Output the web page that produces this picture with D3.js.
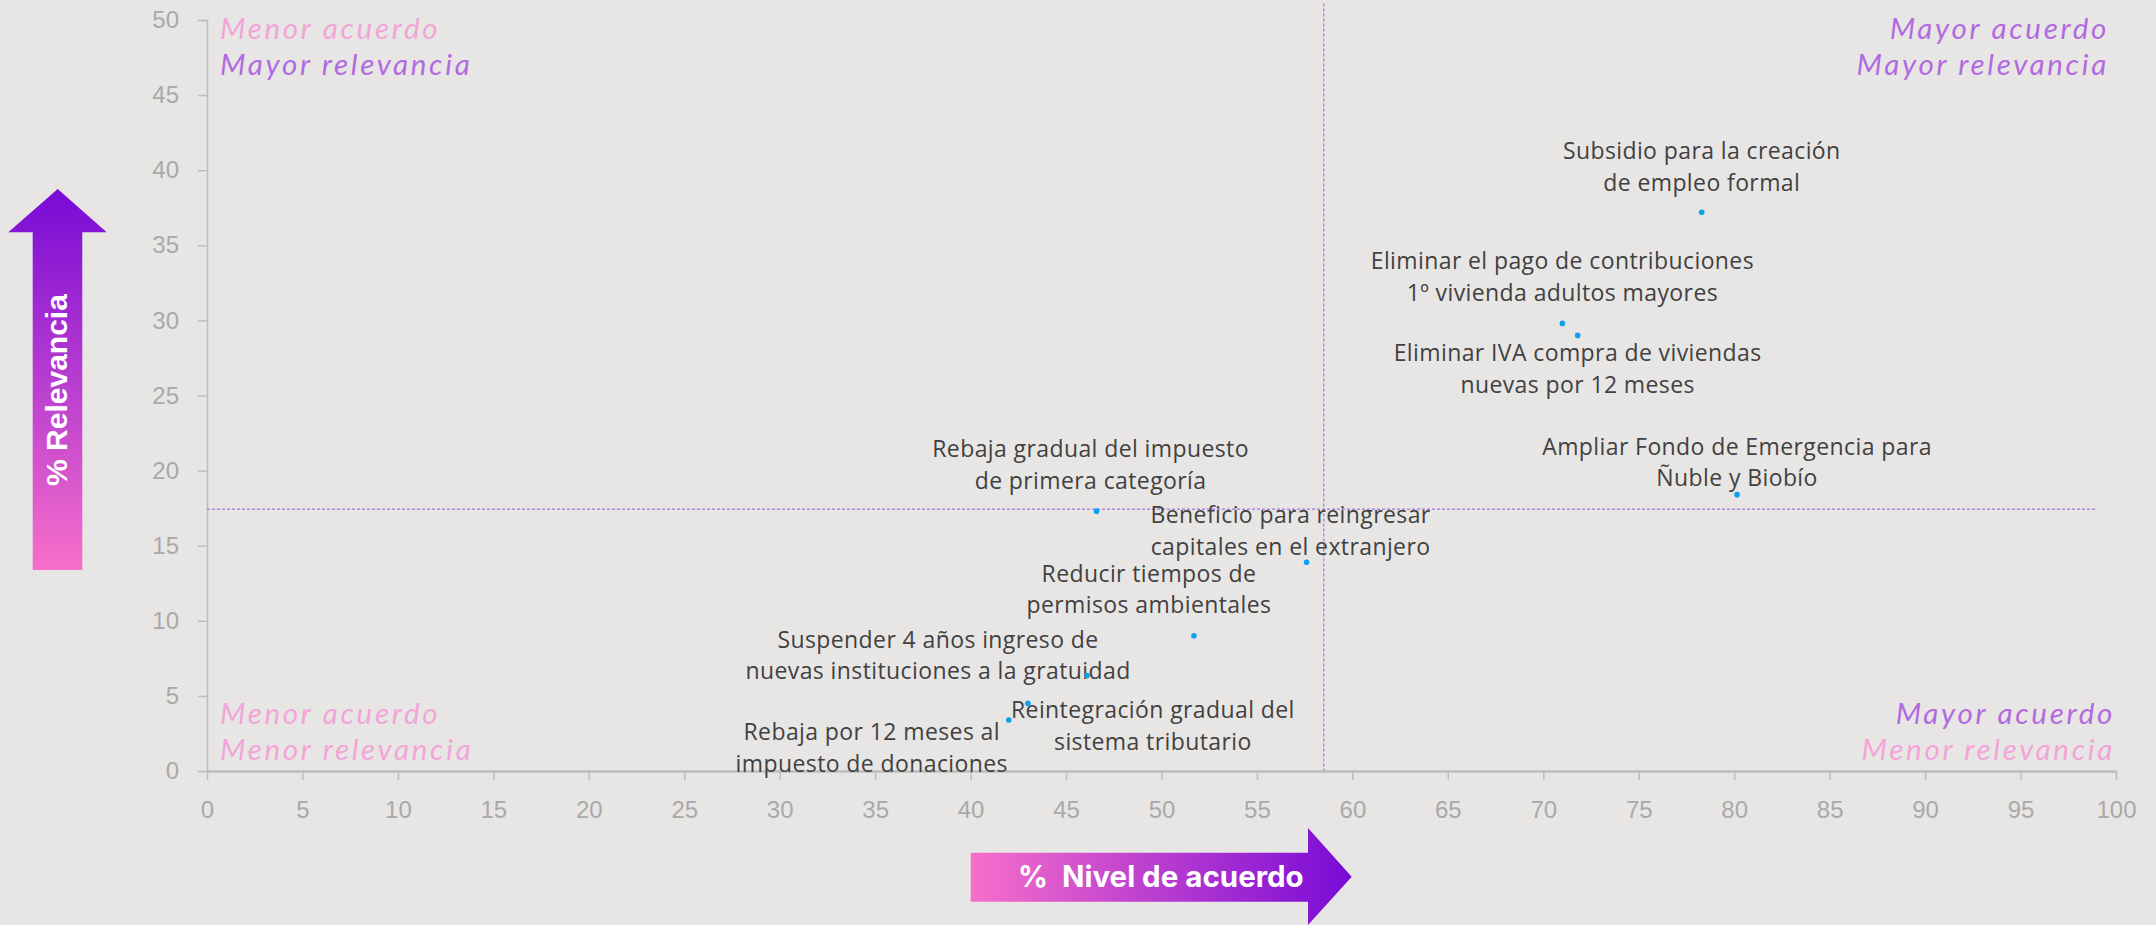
<!DOCTYPE html>
<html>
<head>
<meta charset="utf-8">
<script src="https://cdn.jsdelivr.net/npm/d3@7"></script>
<style>
  html, body { margin: 0; padding: 0; background: #e8e6e4; }
  svg { display: block; font-family: "Open Sans", sans-serif; }
</style>
</head>
<body>
<svg id="chart" width="2156" height="925"></svg>
<script>
// medidas evaluadas (cada etiqueta en dos lineas)
const medidas = [
  ["Subsidio para la creación", "de empleo formal"],
  ["Eliminar el pago de contribuciones", "1º vivienda adultos mayores"],
  ["Eliminar IVA compra de viviendas", "nuevas por 12 meses"],
  ["Ampliar Fondo de Emergencia para", "Ñuble y Biobío"],
  ["Rebaja gradual del impuesto", "de primera categoría"],
  ["Beneficio para reingresar", "capitales en el extranjero"],
  ["Reducir tiempos de", "permisos ambientales"],
  ["Suspender 4 años ingreso de", "nuevas instituciones a la gratuidad"],
  ["Reintegración gradual del", "sistema tributario"],
  ["Rebaja por 12 meses al", "impuesto de donaciones"]
];
const acuerdo    = [78.3, 71.0, 71.8, 80.15, 46.6, 57.6, 51.7, 46.1, 43.0, 42.0];
const relevancia = [37.2, 29.8, 29.0, 18.4, 17.3, 13.9, 9.0, 6.35, 4.5, 3.4];

// lineas de referencia (promedios)
const promedioAcuerdo = 58.5;
const promedioRelevancia = 17.44;

const xTicks = [0, 5, 10, 15, 20, 25, 30, 35, 40, 45, 50, 55, 60, 65, 70, 75, 80, 85, 90, 95, 100];
const yTicks = [0, 5, 10, 15, 20, 25, 30, 35, 40, 45, 50];

// desplazamiento de cada etiqueta respecto a su punto (px)
const labelDx = [0, 0, 0, 0, -6, -16, -45, -149, 125, -137];
const labelDy = [-53, -54, 26, -40, -54, -39, -54, -28, 15, 20];

const svg = d3.select("#chart");
const lineH = 31.6;

const x = d3.scaleLinear().domain([0, 100]).range([207, 2116]);
const y = d3.scaleLinear().domain([0, 50]).range([771, 20]);

// gradientes para las flechas
const defs = svg.append("defs");
const gy = defs.append("linearGradient").attr("id", "gradY")
  .attr("gradientUnits", "userSpaceOnUse")
  .attr("x1", 0).attr("y1", 570).attr("x2", 0).attr("y2", 189);
gy.append("stop").attr("offset", "0%").attr("stop-color", "#f76fca");
gy.append("stop").attr("offset", "100%").attr("stop-color", "#780ad6");
const gx = defs.append("linearGradient").attr("id", "gradX")
  .attr("gradientUnits", "userSpaceOnUse")
  .attr("x1", 971).attr("y1", 0).attr("x2", 1352).attr("y2", 0);
gx.append("stop").attr("offset", "0%").attr("stop-color", "#f76fca");
gx.append("stop").attr("offset", "100%").attr("stop-color", "#780ad6");

// ejes
const yAxis = svg.append("g")
  .attr("transform", `translate(${x(0)},0)`)
  .call(d3.axisLeft(y).tickValues(yTicks).tickSize(9).tickPadding(19));
yAxis.selectAll("path, line").attr("stroke", "#bdbdbd").attr("stroke-width", 1.5);
yAxis.selectAll("text")
  .attr("fill", "#a9a9a9")
  .style("font-size", "24px")
  .style("font-weight", 300);

const xAxis = svg.append("g")
  .attr("transform", `translate(0,${y(0)})`)
  .call(d3.axisBottom(x).tickValues(xTicks).tickSize(9).tickSizeOuter(0));
xAxis.select(".domain").attr("stroke", "#bdbdbd").attr("stroke-width", 2.5);
xAxis.selectAll("line").attr("stroke", "#bdbdbd").attr("stroke-width", 1.5);
xAxis.selectAll("text")
  .attr("y", 47).attr("dy", null)
  .attr("fill", "#a9a9a9")
  .style("font-size", "24px")
  .style("font-weight", 300);

// lineas de promedio
svg.append("line")
  .attr("x1", x(0)).attr("x2", x(98.95))
  .attr("y1", y(promedioRelevancia)).attr("y2", y(promedioRelevancia))
  .attr("stroke", "#a772dc").attr("stroke-width", 1.2)
  .attr("stroke-dasharray", "3,2");
svg.append("line")
  .attr("x1", x(promedioAcuerdo)).attr("x2", x(promedioAcuerdo))
  .attr("y1", y(51.1)).attr("y2", y(0))
  .attr("stroke", "#a772dc").attr("stroke-width", 1.2)
  .attr("stroke-dasharray", "3,2");

// textos de cuadrantes
const pink = "#f3a4d8", purple = "#b26ae2";
const quad = [
  { x: 220, y: 39, anchor: "start", t: ["Menor acuerdo", "Mayor relevancia"], c: [pink, purple] },
  { x: 2109, y: 39, anchor: "end", t: ["Mayor acuerdo", "Mayor relevancia"], c: [purple, purple] },
  { x: 220, y: 724, anchor: "start", t: ["Menor acuerdo", "Menor relevancia"], c: [pink, pink] },
  { x: 2115, y: 724, anchor: "end", t: ["Mayor acuerdo", "Menor relevancia"], c: [purple, pink] }
];
quad.forEach(q => {
  q.t.forEach((s, i) => {
    svg.append("text")
      .attr("text-anchor", q.anchor)
      .attr("x", q.x).attr("y", q.y + i * 35.5)
      .attr("fill", q.c[i])
      .style("font-family", "Lato, sans-serif")
      .style("font-size", "29.5px")
      .style("letter-spacing", "2.7px")
      .style("font-style", "italic")
      .style("font-weight", 400)
      .text(s);
  });
});

// etiquetas de medidas
const data = medidas.map((m, i) => ({ lines: m, ac: acuerdo[i], rel: relevancia[i], dx: labelDx[i], dy: labelDy[i] }));

const labels = svg.append("g").selectAll("text")
  .data(data)
  .join("text")
  .attr("text-anchor", "middle")
  .attr("fill", "#414141")
  .style("font-size", "23px")
  .style("letter-spacing", "0.4px");
labels.each(function (d) {
  const t = d3.select(this);
  d.lines.forEach((s, i) => {
    t.append("tspan")
      .attr("x", x(d.ac) + d.dx)
      .attr("y", y(d.rel) + d.dy + i * lineH)
      .text(s);
  });
});

svg.append("g").selectAll("circle")
  .data(data)
  .join("circle")
  .attr("cx", d => x(d.ac))
  .attr("cy", d => y(d.rel))
  .attr("r", 2.8)
  .attr("fill", "#0aa2ec");

// flecha vertical: % Relevancia
svg.append("path")
  .attr("d", "M32.7,570 V232.3 H8.3 L57.7,189 L106.7,232.3 H82.3 V570 Z")
  .attr("fill", "url(#gradY)");
svg.append("text")
  .attr("transform", "translate(56,390) rotate(-90)")
  .attr("text-anchor", "middle")
  .attr("dominant-baseline", "central")
  .attr("fill", "#fff")
  .style("font-family", "'Liberation Sans', Arial, sans-serif")
  .style("font-weight", 700)
  .style("font-size", "30px")
  .text("% Relevancia");

// flecha horizontal: % Nivel de acuerdo
svg.append("path")
  .attr("d", "M970.7,852.7 H1308 V828 L1351.7,876.7 L1308,925 V901.7 H970.7 Z")
  .attr("fill", "url(#gradX)");
svg.append("text")
  .attr("x", 1018).attr("y", 887)
  .attr("fill", "#fff")
  .attr("xml:space", "preserve")
  .style("white-space", "pre")
  .style("font-family", "Inter, sans-serif")
  .style("font-weight", 700)
  .style("font-size", "29.5px")
  .text("%  Nivel de acuerdo");
</script>
</body>
</html>
